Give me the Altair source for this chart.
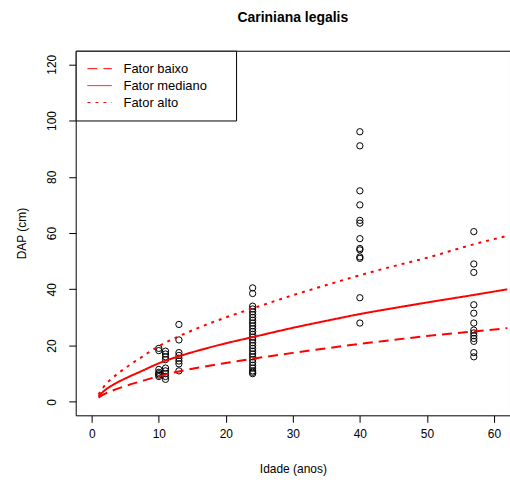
import altair as alt
import pandas as pd

# Observed diameters (DAP, cm) grouped by tree age (anos)
obs_ages = [10, 11, 13, 24, 40, 57]
obs_dap = [
    [19, 18.2, 11.5, 10.5, 10, 9.5, 9],
    [18, 17, 16, 15, 12, 11, 10, 9, 8],
    [27.5, 22, 17.5, 16.5, 15.5, 14.5, 13.5, 11],
    [40.5, 38.5, 34, 33, 32, 31, 30, 29, 28, 27, 26, 25, 24, 23, 22,
     21, 20, 19, 18, 17, 16, 15, 14, 13, 12, 11, 10.5, 10],
    [96, 91, 75, 70, 64.5, 63.5, 58, 54.5, 54, 51.5, 51, 37, 28],
    [60.5, 49, 46, 34.5, 31.5, 28, 25.5, 24.5, 23.5, 22.5, 21.5, 17.5, 16],
]

# Fitted growth curves for the three site factors
curve_age = [1, 2, 3, 5, 7.5, 10, 13, 16, 20, 24, 30, 35, 40, 45, 50, 57, 62]
dap_baixo = [1.5, 2.9, 3.9, 5.6, 7.4, 9.1, 10.8, 12.2, 13.8, 15.3, 17.4, 19.0,
             20.6, 22.0, 23.4, 25.0, 26.2]
dap_mediano = [2.0, 4.2, 5.8, 8.3, 11.0, 13.7, 16.2, 18.3, 20.8, 23.0, 26.3,
               28.8, 31.2, 33.3, 35.3, 38.0, 40.0]
dap_alto = [2.6, 6.0, 8.3, 12.0, 16.0, 19.8, 23.3, 26.4, 30.0, 33.2, 37.9, 41.5,
            45.0, 48.2, 51.2, 56.0, 59.0]

fatores = ["Fator baixo", "Fator mediano", "Fator alto"]

pts = pd.DataFrame(
    [(a, d) for a, ds in zip(obs_ages, obs_dap) for d in ds],
    columns=["idade", "dap"],
)
curves = pd.DataFrame(
    [(a, d, f) for f, ys in zip(fatores, [dap_baixo, dap_mediano, dap_alto])
     for a, d in zip(curve_age, ys)],
    columns=["idade", "dap", "fator"],
)

x_enc = alt.X("idade:Q", title="Idade (anos)",
              scale=alt.Scale(domain=[-2.4, 62.4], nice=False, zero=False),
              axis=alt.Axis(values=[0, 10, 20, 30, 40, 50, 60], labelAngle=0,
                            labelPadding=6, titlePadding=24))
y_enc = alt.Y("dap:Q", title="DAP (cm)",
              scale=alt.Scale(domain=[-4.8, 124.8], nice=False, zero=False),
              axis=alt.Axis(values=[0, 20, 40, 60, 80, 100, 120], labelAngle=270,
                            labelAlign="center", labelBaseline="bottom",
                            labelPadding=10, titlePadding=17))

points = alt.Chart(pts).mark_point(
    shape="circle", filled=False, color="black", size=40, strokeWidth=1, opacity=1
).encode(x=x_enc, y=y_enc)

# Legend box: an unseen right-hand title gives the box its extra width on the right
lines = alt.Chart(curves).mark_line(
    color="#ff0000", strokeWidth=2, interpolate="monotone", clip=True
).encode(
    x=x_enc,
    y=y_enc,
    strokeDash=alt.StrokeDash(
        "fator:N",
        scale=alt.Scale(domain=fatores, range=[[10, 6], [1, 0], [3, 5]]),
        legend=alt.Legend(
            orient="none", legendX=0, legendY=0,
            title="Fator", titleOrient="right", titleOpacity=0,
            titleFontSize=8, titlePadding=0,
            strokeColor="black", fillColor="white", padding=9.5,
            symbolType="stroke", symbolSize=600, symbolStrokeWidth=1,
            symbolOffset=1.5, symbolStrokeColor="#ff0000",
            labelFontSize=13, labelOffset=11, rowPadding=0, clipHeight=17,
            labelColor="black", labelFont="Liberation Sans",
        ),
    ),
)

chart = (
    alt.layer(points, lines)
    .properties(
        width=436, height=366,
        title=alt.TitleParams("Cariniana legalis", fontSize=14, fontWeight="bold",
                              font="Liberation Sans", color="black", offset=25,
                              anchor="middle"),
        autosize=alt.AutoSizeParams(type="none"),
        padding={"left": 76, "top": 50, "right": 0, "bottom": 68},
    )
    .configure_view(stroke="black", strokeWidth=1)
    .configure_axis(
        domain=False, grid=False, tickColor="black", tickSize=7, tickWidth=1,
        labelColor="black", labelFont="Liberation Sans", labelFontSize=12,
        titleColor="black", titleFont="Liberation Sans", titleFontSize=12,
        titleFontWeight="normal",
    )
)

chart.save("out.html", embed_options={"renderer": "svg", "actions": False})
